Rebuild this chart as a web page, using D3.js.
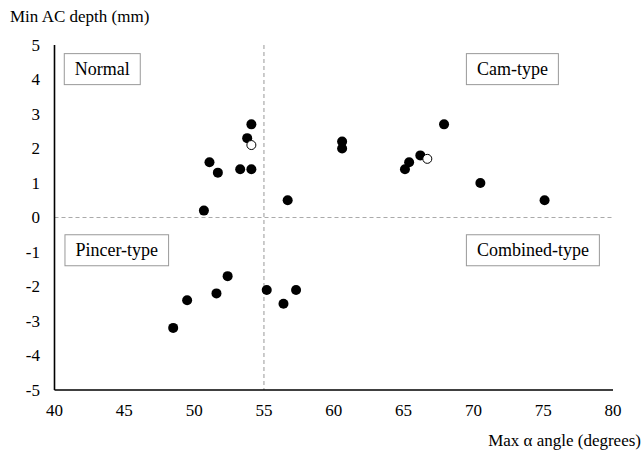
<!DOCTYPE html>
<html>
<head>
<meta charset="utf-8">
<script src="https://cdn.jsdelivr.net/npm/d3@7"></script>
<style>
  body { margin: 0; background: #fff; }
  text { font-family: "Liberation Serif", "Times New Roman", serif; fill: #000; }
</style>
</head>
<body>
<div class="chart"></div>
<script>
(function() {
  // filled markers
  var angleVals = [50.7, 51.1, 51.7, 53.3, 54.1, 53.8, 54.1, 56.7,
    60.6, 60.6, 67.9, 65.1, 65.4, 66.2, 70.5, 75.1,
    48.5, 49.5, 51.6, 52.4, 55.2, 56.4, 57.3];
  var depthVals = [0.2, 1.6, 1.3, 1.4, 1.4, 2.3, 2.7, 0.5,
    2.2, 2.0, 2.7, 1.4, 1.6, 1.8, 1.0, 0.5,
    -3.2, -2.4, -2.2, -1.7, -2.1, -2.5, -2.1];
  // open markers
  var openAngle = [54.1, 66.7];
  var openDepth = [2.1, 1.7];

  var xTicks = [40, 45, 50, 55, 60, 65, 70, 75, 80];
  var yTicks = [5, 4, 3, 2, 1, 0, -1, -2, -3, -4, -5];
  var quadLabels = ["Normal", "Cam-type", "Pincer-type", "Combined-type"];
  var quadX = [40.7, 69.5, 40.75, 69.5];
  var quadY = [4.75, 4.75, -0.5, -0.5];
  var cutX = 55, cutY = 0;

  var width = 644, height = 452;
  var svg = d3.select(".chart").append("svg")
    .attr("width", width)
    .attr("height", height);

  var x = d3.scaleLinear().domain([40, 80]).range([54.5, 613]);
  var y = d3.scaleLinear().domain([-5, 5]).range([390, 45]);

  // quadrant dividers
  svg.append("line")
    .attr("x1", x(40)).attr("x2", x(80))
    .attr("y1", y(cutY)).attr("y2", y(cutY))
    .attr("stroke", "#aaa").attr("stroke-width", 1.2)
    .attr("stroke-dasharray", "4,3");
  svg.append("line")
    .attr("x1", x(cutX)).attr("x2", x(cutX))
    .attr("y1", y(5)).attr("y2", y(-5))
    .attr("stroke", "#aaa").attr("stroke-width", 1.2)
    .attr("stroke-dasharray", "4,3");

  // axes
  svg.append("line")
    .attr("x1", x(40)).attr("x2", x(40))
    .attr("y1", y(5)).attr("y2", y(-5))
    .attr("stroke", "#000").attr("stroke-width", 1.6);
  svg.append("line")
    .attr("x1", x(40)).attr("x2", x(80))
    .attr("y1", y(-5)).attr("y2", y(-5))
    .attr("stroke", "#000").attr("stroke-width", 1.6);

  svg.append("g").selectAll("text")
    .data(yTicks)
    .enter().append("text")
      .attr("x", 40)
      .attr("y", function(d) { return y(d); })
      .attr("dy", ".35em")
      .attr("text-anchor", "end")
      .style("font-size", "17px")
      .text(function(d) { return d; });

  svg.append("g").selectAll("text")
    .data(xTicks)
    .enter().append("text")
      .attr("x", function(d) { return x(d); })
      .attr("y", 416)
      .attr("text-anchor", "middle")
      .style("font-size", "17px")
      .text(function(d) { return d; });

  svg.append("text")
    .attr("x", 10).attr("y", 22)
    .style("font-size", "17px")
    .text("Min AC depth (mm)");
  svg.append("text")
    .attr("x", 641).attr("y", 446)
    .attr("text-anchor", "end")
    .style("font-size", "17px")
    .text("Max \u03b1 angle (degrees)");

  // quadrant labels
  quadLabels.forEach(function(lab, i) {
    var g = svg.append("g")
      .attr("transform", "translate(" + x(quadX[i]) + "," + y(quadY[i]) + ")");
    var rect = g.append("rect").attr("fill", "#fff").attr("stroke", "#999").attr("stroke-width", 1);
    var t = g.append("text")
      .attr("x", 10.5).attr("y", 21.5)
      .style("font-size", "18px")
      .text(lab);
    var bb = t.node().getBBox();
    rect.attr("x", 0).attr("y", 0)
      .attr("width", bb.width + 21).attr("height", 31);
  });

  // markers
  svg.append("g").selectAll("circle")
    .data(d3.range(angleVals.length))
    .enter().append("circle")
      .attr("cx", function(i) { return x(angleVals[i]); })
      .attr("cy", function(i) { return y(depthVals[i]); })
      .attr("r", 5)
      .attr("fill", "#000");
  svg.append("g").selectAll("circle")
    .data(d3.range(openAngle.length))
    .enter().append("circle")
      .attr("cx", function(i) { return x(openAngle[i]); })
      .attr("cy", function(i) { return y(openDepth[i]); })
      .attr("r", 4.5)
      .attr("fill", "#fff")
      .attr("stroke", "#000")
      .attr("stroke-width", 1);
})();
</script>
</body>
</html>
